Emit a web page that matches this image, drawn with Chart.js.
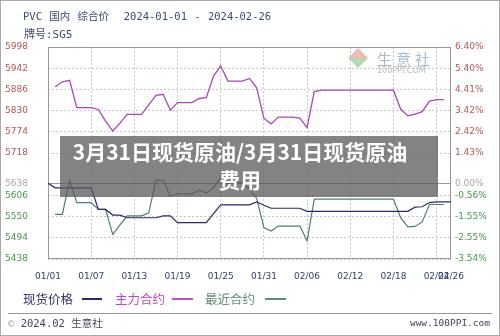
<!DOCTYPE html>
<html>
<head>
<meta charset="utf-8">
<script src="https://cdn.jsdelivr.net/npm/chart.js@4.4.1/dist/chart.umd.min.js"></script>
<style>
  body { margin: 0; background: #fff; }
  #wrap { position: relative; width: 500px; height: 336px; overflow: hidden; background: #fff; }
  #c { position: absolute; left: 0; top: 0; }
  .t { position: absolute; white-space: pre; }
  .ttl { font: 10.5px 'DejaVu Sans Mono', 'Noto Sans CJK SC'; color: #3b4b6b; word-spacing: 1px; }
  .lg { font: 12.5px 'Noto Sans CJK SC'; top: 289px; }
  .ln { position: absolute; top: 298px; height: 1.5px; }
  #frame { position: absolute; left: 0; top: 0; width: 498px; height: 334px; border: 1px solid #aaa; pointer-events: none; }
</style>
</head>
<body>
<div id="wrap">
  <canvas id="c" width="500" height="336"></canvas>

  <div class="t ttl" style="left:23px;top:8px">PVC 国内 综合价  2024-01-01 - 2024-02-26</div>
  <div class="t ttl" style="left:24px;top:25px;font-size:11px">牌号:SG5</div>

  <!-- site watermark -->
  <div style="position:absolute;left:351px;top:51px;width:14px;height:14px;transform:rotate(45deg);background:linear-gradient(135deg,#f0a8a0 50%,#9fd09a 50%);opacity:.8"></div>
  <div class="t" style="left:377px;top:48px;font:15px 'Noto Sans CJK SC';color:#a9bccd;letter-spacing:4px">生意社</div>
  <div class="t" style="left:377px;top:66px;font:8px 'DejaVu Sans';color:#bbb">100PPI.COM</div>

  <!-- legend -->
  <div class="t lg" style="left:23px;color:#33336e">现货价格</div>
  <div class="ln" style="left:82px;width:20px;background:#2a2a6a"></div>
  <div class="t lg" style="left:115px;color:#c444c4">主力合约</div>
  <div class="ln" style="left:172px;width:21px;background:#c050c8"></div>
  <div class="t lg" style="left:205px;color:#5f8f75">最近合约</div>
  <div class="ln" style="left:265px;width:21px;background:#5f8f80"></div>

  <!-- footer -->
  <div style="position:absolute;left:8px;top:313px;width:484px;height:1px;background:#999"></div>
  <div class="t" style="left:8px;top:315px;font:10.5px 'DejaVu Sans Mono','Noto Sans CJK SC';color:#445"><span style="color:#aaa">©</span> 2024.02 生意社</div>
  <div class="t" style="right:10px;top:317px;font:9.5px 'DejaVu Sans Mono';color:#445">www.100PPI.com</div>

  <!-- overlay caption -->
  <div style="position:absolute;left:60px;top:136px;width:378px;height:61px;background:rgba(90,90,90,0.75)"></div>
  <div style="position:absolute;left:67px;top:137px;width:346px;text-align:center;color:#fff;font:bold 21px 'Noto Sans CJK SC';line-height:28px">3月31日现货原油/3月31日现货原油费用</div>

  <div id="frame"></div>
</div>

<script>
const dates = [
  '01/01','01/02','01/03','01/04','01/05','01/06','01/07','01/08','01/09','01/10',
  '01/11','01/12','01/13','01/14','01/15','01/16','01/17','01/18','01/19','01/20',
  '01/21','01/22','01/23','01/24','01/25','01/26','01/27','01/28','01/29','01/30',
  '01/31','02/01','02/02','02/03','02/04','02/05','02/06','02/07','02/08','02/09',
  '02/10','02/11','02/12','02/13','02/14','02/15','02/16','02/17','02/18','02/19',
  '02/20','02/21','02/22','02/23','02/24','02/25','02/26'
];

// 现货价格
const spot = [
  5638,5626,5626,5626,5626,5626,5626,5569,5569,5554,
  5554,5547,5547,5547,5547,5547,5552,5552,5534,5534,
  5534,5534,5534,5558,5581,5581,5581,5581,5581,5589,
  5580,5572,5572,5572,5572,5572,5564,5564,5564,5564,
  5564,5564,5564,5564,5564,5564,5564,5564,5564,5564,
  5564,5575,5576,5587,5589,5589,5589
];

// 主力合约
const mainContract = [
  null,5893,5906,5910,5838,5838,5838,5833,5802,5776,
  5797,5820,5820,5820,5845,5870,5873,5831,5851,5851,
  5851,5862,5864,5921,5948,5908,5908,5908,5915,5890,
  5810,5795,5813,5813,5813,5810,5785,5880,5884,5884,
  5884,5884,5884,5884,5884,5884,5884,5884,5884,5834,
  5816,5821,5827,5855,5859,5859,null
];

// 最近合约
const nearContract = [
  null,5556,5556,5646,5587,5587,5587,5569,5569,5503,
  5528,5552,5552,5552,5560,5646,5646,5604,5610,5610,
  5610,5620,5612,5626,5653,5639,5639,5639,5622,5598,
  5521,5512,5525,5525,5525,5525,5486,5596,5596,5596,
  5596,5596,5596,5596,5596,5596,5596,5596,5596,5547,
  5523,5524,5536,5582,5582,5582,null
];

const basePrice = 5638;
const priceTicks = [5998,5942,5886,5830,5774,5718,5638,5606,5550,5494,5438];
const pctLabels = ['6.40%','5.40%','4.41%','3.42%','2.42%','1.43%','0.00%','-0.56%','-1.55%','-2.55%','-3.54%'];

function tickColor(ctx) {
  const v = ctx.tick.value;
  if (v === basePrice) return '#a8a8a8';
  return v > basePrice ? '#b85450' : '#44994a';
}

const framePlugin = {
  id: 'framePlugin',
  beforeDatasetsDraw(chart) {
    const { ctx, chartArea: a, scales } = chart;
    const y0 = Math.round(scales.y.getPixelForValue(basePrice)) + 0.5;
    ctx.save();
    ctx.strokeStyle = '#999';
    ctx.lineWidth = 1;
    ctx.beginPath();
    ctx.moveTo(a.left, y0);
    ctx.lineTo(a.right, y0);
    ctx.stroke();
    ctx.strokeRect(a.left + 0.5, a.top + 0.5, a.width - 1, a.height - 1);
    ctx.restore();
  }
};

new Chart(document.getElementById('c'), {
  type: 'line',
  data: {
    labels: dates,
    datasets: [
      { label: '现货价格', data: spot, borderColor: '#2a2a6a', borderWidth: 1.2 },
      { label: '主力合约', data: mainContract, borderColor: '#a848b0', borderWidth: 1.3 },
      { label: '最近合约', data: nearContract, borderColor: '#4f7f70', borderWidth: 1.2 }
    ]
  },
  options: {
    responsive: false,
    animation: false,
    devicePixelRatio: 1,
    elements: { point: { radius: 0 }, line: { tension: 0, fill: false } },
    layout: { padding: { top: 47, bottom: 55, left: 0, right: 0 } },
    plugins: { legend: { display: false }, tooltip: { enabled: false } },
    scales: {
      x: {
        offset: false,
        afterFit: s => { s.height = 22; },
        border: { display: false, dash: [2, 2] },
        grid: {
          drawTicks: false,
          color: c => (c.index % 6 === 0 ? '#c8c8c8' : 'rgba(0,0,0,0)')
        },
        ticks: {
          autoSkip: false,
          maxRotation: 0,
          padding: 12,
          color: '#33406a',
          font: { family: 'DejaVu Sans', size: 9 },
          callback: (v, i) => (i % 6 === 0 || i === dates.length - 1 ? dates[i] : '')
        }
      },
      y: {
        position: 'left',
        min: 5438,
        max: 5998,
        afterFit: s => { s.width = 48; },
        afterBuildTicks: s => { s.ticks = priceTicks.map(v => ({ value: v })); },
        border: { display: false, dash: [2, 2] },
        grid: {
          drawTicks: false,
          color: c => (c.tick && c.tick.value === basePrice ? 'rgba(0,0,0,0)' : '#c8c8c8')
        },
        ticks: {
          padding: 20,
          color: tickColor,
          font: { family: 'DejaVu Sans', size: 9 },
          callback: v => String(v)
        }
      },
      y1: {
        position: 'right',
        min: 5438,
        max: 5998,
        afterFit: s => { s.width = 49; },
        afterBuildTicks: s => { s.ticks = priceTicks.map(v => ({ value: v })); },
        border: { display: false },
        grid: { display: false, drawTicks: false },
        ticks: {
          padding: 4,
          color: tickColor,
          font: { family: 'DejaVu Sans', size: 9 },
          callback: v => pctLabels[priceTicks.indexOf(v)]
        }
      }
    }
  },
  plugins: [framePlugin]
});
</script>
</body>
</html>
